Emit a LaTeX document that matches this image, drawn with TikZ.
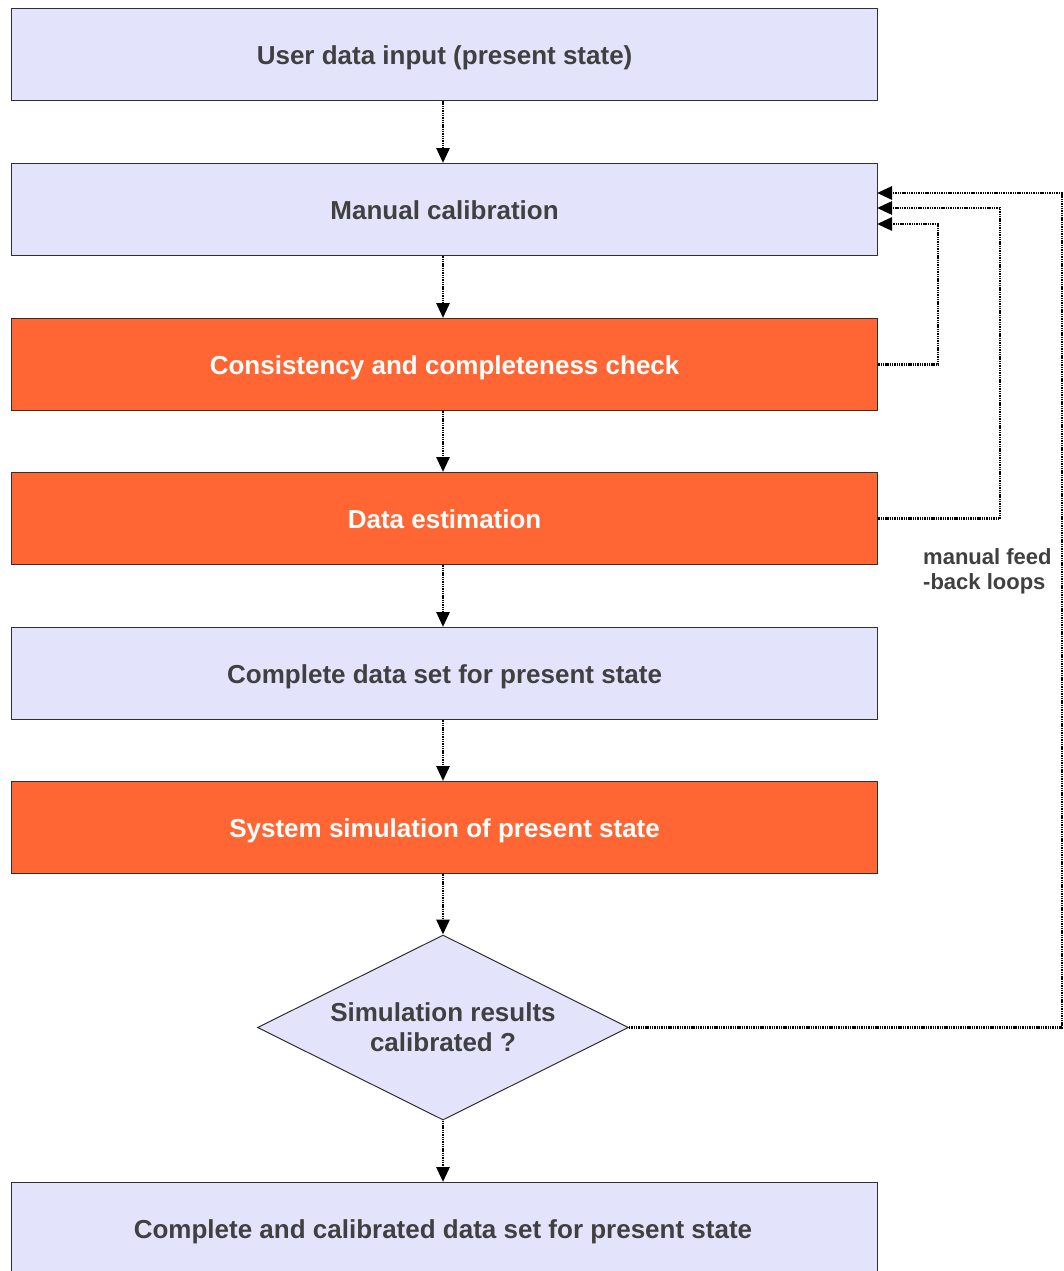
\documentclass[tikz,border=0pt]{standalone}
\usepackage{fontspec}
\setmainfont{Liberation Sans}
\usetikzlibrary{shapes.geometric,arrows.meta}
\definecolor{lav}{HTML}{E3E3FC}
\definecolor{orng}{HTML}{FF6633}
\definecolor{txt}{HTML}{404040}
\definecolor{edge}{HTML}{303030}
\tikzset{
  stepbox/.style={draw=edge, line width=1.2pt, minimum width=866pt, minimum height=92pt,
    inner sep=0pt, text height=21pt, text depth=1pt,
    font=\fontsize{26}{30}\selectfont\bfseries, anchor=north west},
  plain/.style={stepbox, fill=lav, text=txt},
  hot/.style={stepbox, fill=orng, text=white},
  flow/.style={draw=black, line width=2.8pt, dash pattern=on 1.4pt off 0.9pt,
    -{Triangle[length=15pt,width=13pt]}},
}
\begin{document}
\begin{tikzpicture}[x=1pt,y=-1pt]
\useasboundingbox (0,0) rectangle (1064,1271);
\begin{scope}
\clip (0,0) rectangle (1064,1271);
\node[plain] (n1) at (11,8)   {User data input (present state)};
\node[plain] (n2) at (11,163) {Manual calibration};
\node[hot]   (n3) at (11,318) {Consistency and completeness check};
\node[hot]   (n4) at (11,472) {Data estimation};
\node[plain] (n5) at (11,627) {Complete data set for present state};
\node[hot]   (n6) at (11,781) {System simulation of present state};
\node[diamond, draw=edge, line width=1pt, fill=lav, text=txt, inner sep=0pt,
      minimum width=371pt, minimum height=185pt, aspect=2,
      font=\fontsize{26}{30}\selectfont\bfseries, align=center] (d) at (443,1027.5)
      {Simulation results\\ calibrated ?};
\node[plain, minimum height=110pt] (n7) at (11,1182) {};
\node[text=txt, text height=21pt, text depth=1pt, inner sep=0pt,
      font=\fontsize{26}{30}\selectfont\bfseries] (t7) at (443,1228.5)
      {Complete and calibrated data set for present state};
\end{scope}
% main sequence
\draw[flow] (n1.south -| 443,0) -- (n2.north -| 443,0);
\draw[flow] (n2.south -| 443,0) -- (n3.north -| 443,0);
\draw[flow] (n3.south -| 443,0) -- (n4.north -| 443,0);
\draw[flow] (n4.south -| 443,0) -- (n5.north -| 443,0);
\draw[flow] (n5.south -| 443,0) -- (n6.north -| 443,0);
\draw[flow] (n6.south -| 443,0) -- (d.north);
\draw[flow] (d.south) -- (n7.north -| 443,0);
% manual feedback loops
\coordinate (r3) at (n3.east);
\coordinate (r4) at (n4.east);
\draw[flow] (r3) -| (938,224) -- (877,224);
\draw[flow] (r4) -| (1000,208) -- (877,208);
\draw[flow] (d.east) -| (1062,193) -- (877,193);
\node[text=txt, font=\fontsize{22}{25}\selectfont\bfseries, align=left, anchor=north west,
      inner sep=0pt] (lbl) at (923,548) {manual feed\\-back loops};
\end{tikzpicture}
\end{document}
